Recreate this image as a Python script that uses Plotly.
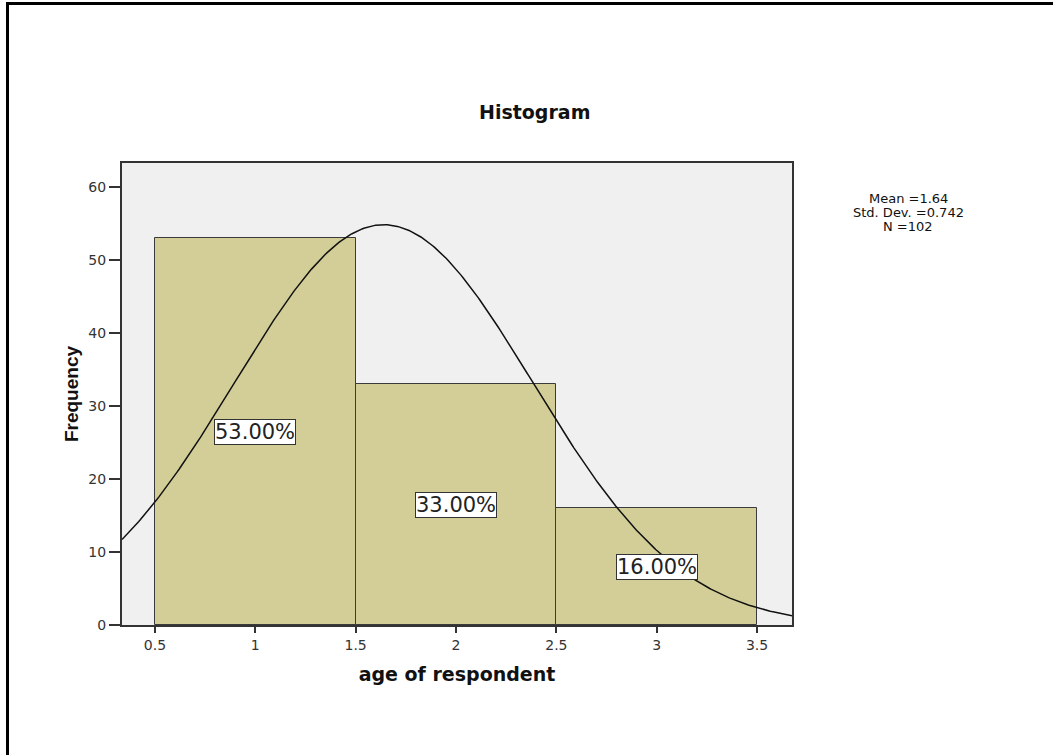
import numpy as np
import plotly.graph_objects as go

bin_centers = [1, 2, 3]
frequencies = [53, 33, 16]
pct_labels = ["53.00%", "33.00%", "16.00%"]
mean_val = 1.64
std_val = 0.742
n_val = 102
bin_width = 1.0
x_ticks = [0.5, 1, 1.5, 2, 2.5, 3, 3.5]
x_tick_text = ["0.5", "1", "1.5", "2", "2.5", "3", "3.5"]
y_ticks = [0, 10, 20, 30, 40, 50, 60]
stats_lines = [f"Mean ={mean_val}", f"Std. Dev. ={std_val}", f"N ={n_val}"]

x_range = [0.336, 3.674]
y_range = [0, 63.3]

L, R, T, B = 122, 261, 163, 130
PW, PH = 1053 - L - R, 755 - T - B


def px(x):
    return (x - L) / PW


def py(y):
    return (T + PH - y) / PH


FONT = "DejaVu Sans, Liberation Sans, Arial"

fig = go.Figure()
fig.add_trace(go.Bar(
    x=bin_centers, y=frequencies, width=bin_width,
    marker=dict(color="#d3ce98", line=dict(color="#3a3a3a", width=1)),
    hoverinfo="skip", showlegend=False,
))

xs = np.linspace(x_range[0], x_range[1], 400)
ys = n_val * bin_width / (std_val * np.sqrt(2 * np.pi)) * np.exp(-0.5 * ((xs - mean_val) / std_val) ** 2)
fig.add_trace(go.Scatter(x=xs, y=ys, mode="lines", line=dict(color="#111111", width=1.5),
                         hoverinfo="skip", showlegend=False))

for xc, f, lab in zip(bin_centers, frequencies, pct_labels):
    fig.add_annotation(x=xc, y=f / 2, text=lab, showarrow=False,
                       font=dict(family=FONT, size=21, color="#222222"),
                       bgcolor="white", bordercolor="#333333", borderwidth=1, borderpad=0)

for i, line in enumerate(stats_lines):
    fig.add_annotation(xref="paper", yref="paper", x=px(908), y=py(198 + 14 * i),
                       xanchor="center", yanchor="middle",
                       text=line, showarrow=False,
                       font=dict(family=FONT, size=13, color="#111111"))

fig.add_annotation(xref="paper", yref="paper", x=px(534), y=py(112),
                   xanchor="center", yanchor="middle",
                   text="<b>Histogram</b>", showarrow=False,
                   font=dict(family=FONT, size=19, color="#111111"))

# outer frame
fig.add_shape(type="line", xref="paper", yref="paper",
              x0=px(7.5), x1=px(1060), y0=py(3.5), y1=py(3.5),
              line=dict(color="black", width=3))
fig.add_shape(type="line", xref="paper", yref="paper",
              x0=px(7.5), x1=px(7.5), y0=py(2), y1=py(760),
              line=dict(color="black", width=3))

fig.update_layout(
    width=1053, height=755,
    margin=dict(l=L, r=R, t=T, b=B),
    paper_bgcolor="white", plot_bgcolor="#f0f0f0",
    bargap=0,
    font=dict(family=FONT, color="#333333"),
)
fig.update_xaxes(range=x_range, tickvals=x_ticks, ticktext=x_tick_text,
                 ticks="outside", ticklen=6, tickcolor="#333333", tickwidth=2,
                 showline=True, linecolor="#333333", linewidth=2, mirror=True,
                 showgrid=False, zeroline=False,
                 tickfont=dict(family=FONT, size=14, color="#333333"),
                 title=dict(text="<b>age of respondent</b>",
                            font=dict(family=FONT, size=19, color="#111111"), standoff=16))
fig.update_yaxes(range=y_range, tickvals=y_ticks,
                 ticks="outside", ticklen=11, tickcolor="#333333", tickwidth=2,
                 showline=True, linecolor="#333333", linewidth=2, mirror=True,
                 showgrid=False, zeroline=False,
                 tickfont=dict(family=FONT, size=14, color="#333333"),
                 title=dict(text="<b>Frequency</b>",
                            font=dict(family="Liberation Sans, Arial", size=19, color="#111111"),
                            standoff=5))

fig.write_html("out.html", config={"displayModeBar": False},
               post_script="document.body.style.margin='0';")
